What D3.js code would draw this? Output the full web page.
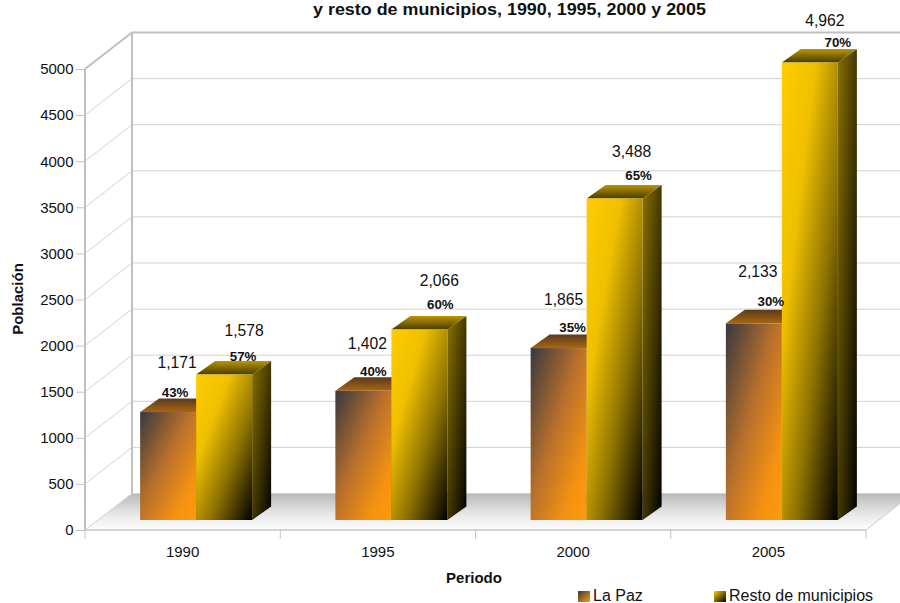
<!DOCTYPE html>
<html>
<head>
<meta charset="utf-8">
<script src="https://cdn.jsdelivr.net/npm/d3@7"></script>
<style>
  html, body { margin: 0; background: #fff; }
  svg { display: block; }
  text { font-family: "Liberation Sans", Arial, sans-serif; fill: #111; }
  .axis path { display: none; }
  .axis text { font-size: 15px; font-family: "Liberation Sans", Arial, sans-serif; }
  .axis line { stroke: #c4c4c4; }
</style>
</head>
<body>
<svg id="chart" width="900" height="603"></svg>
<script>
const years = ["1990", "1995", "2000", "2005"];
const laPaz = [1171, 1402, 1865, 2133];
const resto = [1578, 2066, 3488, 4962];
const laPazPct = ["43%", "40%", "35%", "30%"];
const restoPct = ["57%", "60%", "65%", "70%"];
const yTicks = [0, 500, 1000, 1500, 2000, 2500, 3000, 3500, 4000, 4500, 5000];
const seriesNames = ["La Paz", "Resto de municipios"];

// label nudges from the bar's top centre, [value dx, value dy, pct dx, pct dy]
const laPazNudge = [[9, -44, 7, -15], [4, -42, 10, -15], [5, -43, 14, -16], [4, -46, 17, -17]];
const restoNudge = [[20, -39, 19, -14], [20, -44, 21, -21], [17, -41, 24, -18], [15, -37, 28, -16]];

const svg = d3.select("#chart");
const defs = svg.append("defs");

const wallDx = 47, wallDy = -36.5;
const barDx = 19, barDy = -13.5;
const shift = [10, -10];  // bars stand a bit inside the floor
const barW = 56;

const x = d3.scaleBand().domain(years).range([85, 866]);
const y = d3.scaleLinear().domain([0, 5000]).range([530, 69]);
const line = d3.line();

function grad(id, x2, y2, stops) {
  const g = defs.append("linearGradient").attr("id", id)
    .attr("x1", 0).attr("y1", 0).attr("x2", x2).attr("y2", y2);
  stops.forEach(s => g.append("stop").attr("offset", s[0]).attr("stop-color", s[1]));
}
grad("floor", 0, 1, [[0, "#b9b9b9"], [0.55, "#e6e6e6"], [1, "#ffffff"]]);
grad("lpFront", 1, 1, [[0, "#38383f"], [0.45, "#b8702c"], [0.8, "#f59210"], [1, "#ff9a0a"]]);
grad("lpTop", 0, 1, [[0, "#5a3a20"], [1, "#a8660f"]]);
grad("rsFront", 1, 1, [[0, "#ffcc00"], [0.3, "#f0c000"], [0.62, "#8f7400"], [1, "#000000"]]);
grad("rsTop", 0, 1, [[0, "#bb9600"], [1, "#4a3c00"]]);
grad("rsSide", 1, 1, [[0, "#8a7200"], [1, "#000000"]]);
grad("swLp", 1, 1, [[0, "#38383f"], [1, "#ff9a0a"]]);
grad("swRs", 1, 1, [[0, "#ffcc00"], [1, "#000000"]]);

// floor and walls
const x0 = x.range()[0], x1 = x.range()[1];
svg.append("path")
  .attr("d", line([[x0, y(0)], [x0 + wallDx, y(0) + wallDy], [x1 + wallDx, y(0) + wallDy], [x1, y(0)]]) + "Z")
  .attr("fill", "url(#floor)");

const grid = svg.append("g");
yTicks.forEach(v => {
  const top = v === 5000;
  const c = top ? "#c0c0c0" : "#d2d2d2";
  const w = top ? 2 : 1;
  grid.append("path")
    .attr("d", line([[x0, y(v)], [x0 + wallDx, y(v) + wallDy], [x1 + wallDx, y(v) + wallDy]]))
    .attr("fill", "none").attr("stroke", c).attr("stroke-width", w);
});
grid.append("line").attr("x1", x0 + wallDx).attr("x2", x0 + wallDx)
  .attr("y1", y(0) + wallDy).attr("y2", y(5000) + wallDy)
  .attr("stroke", "#c0c0c0").attr("stroke-width", 2);
grid.append("line").attr("x1", x0).attr("x2", x0)
  .attr("y1", y(0)).attr("y2", y(5000))
  .attr("stroke", "#c0c0c0").attr("stroke-width", 2);
grid.append("line").attr("x1", x0).attr("x2", x1)
  .attr("y1", y(0)).attr("y2", y(0))
  .attr("stroke", "#c4c4c4").attr("stroke-width", 1.5);
grid.append("line").attr("x1", x1).attr("x2", x1 + wallDx)
  .attr("y1", y(0)).attr("y2", y(0) + wallDy)
  .attr("stroke", "#cfcfcf");

// axes
svg.append("g").attr("class", "axis")
  .attr("transform", `translate(${x0},0)`)
  .call(d3.axisLeft(y).tickValues(yTicks).tickSize(9).tickPadding(2.5).tickFormat(d3.format("d")));
svg.append("g").attr("class", "axis")
  .attr("transform", `translate(0,${y(0)})`)
  .call(d3.axisBottom(x).tickSize(0).tickPadding(16));
x.domain().concat("end").forEach((d, i) => {
  const px = x0 + i * x.bandwidth();
  svg.append("line").attr("x1", px).attr("x2", px)
    .attr("y1", y(0)).attr("y2", y(0) + 9).attr("stroke", "#c4c4c4");
});

// one 3d bar
function drawBar(g, left, value, front, top, side) {
  const b = y(0) + shift[1], t = y(value) + shift[1], r = left + barW;
  g.append("path")
    .attr("d", line([[r, b], [r + barDx, b + barDy], [r + barDx, t + barDy], [r, t]]) + "Z")
    .attr("fill", side);
  g.append("path")
    .attr("d", line([[left, t], [left + barDx, t + barDy], [r + barDx, t + barDy], [r, t]]) + "Z")
    .attr("fill", top);
  g.append("rect").attr("x", left).attr("y", t)
    .attr("width", barW).attr("height", b - t).attr("fill", front);
}

const bars = svg.append("g");
years.forEach((yr, i) => {
  const g = bars.append("g");
  const mid = x(yr) + x.bandwidth() / 2 + shift[0] + 3.5;
  drawBar(g, mid - barW, laPaz[i], "url(#lpFront)", "url(#lpTop)", "#5a3a10");
  drawBar(g, mid, resto[i], "url(#rsFront)", "url(#rsTop)", "url(#rsSide)");
});

// labels on top of every bar
function drawLabels(left, values, pcts, nudges) {
  years.forEach((yr, i) => {
    const mid = x(yr) + x.bandwidth() / 2 + shift[0] + 3.5;
    const cx = mid + left * barW + barW / 2;
    const top = y(values[i]) + shift[1];
    const n = nudges[i];
    svg.append("text").attr("x", cx + n[0]).attr("y", top + n[1])
      .attr("text-anchor", "middle").style("font-size", "15.7px")
      .text(d3.format(",")(values[i]));
    svg.append("text").attr("x", cx + n[2]).attr("y", top + n[3])
      .attr("text-anchor", "middle").style("font-size", "13.3px").style("font-weight", "bold")
      .text(pcts[i]);
  });
}
drawLabels(-1, laPaz, laPazPct, laPazNudge);
drawLabels(0, resto, restoPct, restoNudge);

// titles
svg.append("text").attr("x", 509.5).attr("y", 14.5).attr("text-anchor", "middle")
  .attr("textLength", 393).attr("lengthAdjust", "spacingAndGlyphs")
  .style("font-size", "15.8px").style("font-weight", "bold")
  .text("y resto de municipios, 1990, 1995, 2000 y 2005");
svg.append("text").attr("x", 474).attr("y", 583).attr("text-anchor", "middle")
  .style("font-size", "15px").style("font-weight", "bold").text("Periodo");
svg.append("text").attr("transform", "translate(23,299) rotate(-90)").attr("text-anchor", "middle")
  .style("font-size", "15px").style("font-weight", "bold").text("Población");

// legend
const legendX = [578, 714];
seriesNames.forEach((name, i) => {
  svg.append("rect").attr("x", legendX[i]).attr("y", 591)
    .attr("width", 12).attr("height", 11).attr("fill", i ? "url(#swRs)" : "url(#swLp)");
  svg.append("text").attr("x", legendX[i] + 15).attr("y", 600.5)
    .style("font-size", "16px").text(name);
});
</script>
</body>
</html>
